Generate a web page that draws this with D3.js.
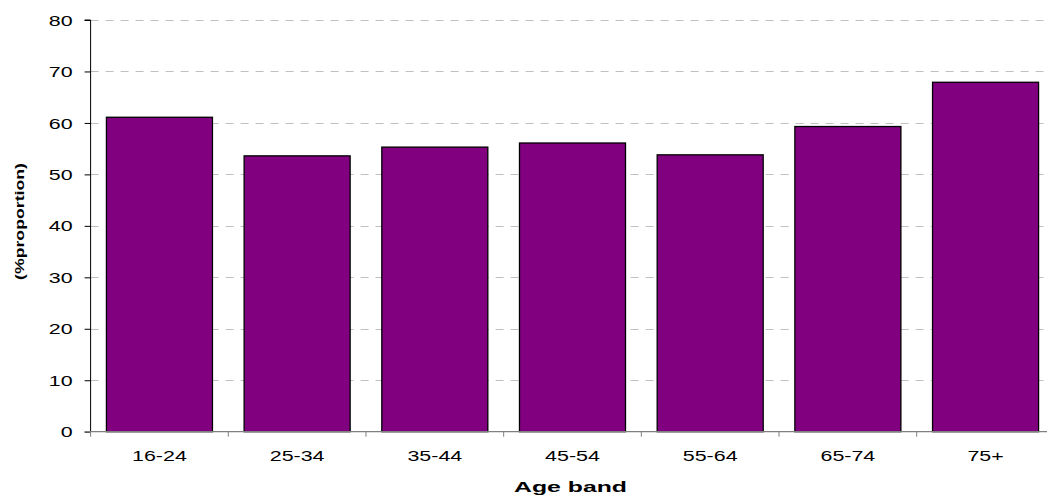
<!DOCTYPE html>
<html><head><meta charset="utf-8">
<script src="https://cdn.jsdelivr.net/npm/d3@7"></script>
<style>body{margin:0;background:#fff}svg{display:block;font-family:"Liberation Sans",Arial,sans-serif}</style>
</head><body><svg id="c" width="1047" height="496"></svg>
<script>
const categories = ["16-24","25-34","35-44","45-54","55-64","65-74","75+"];
const values = [61.1, 53.6, 55.3, 56.1, 53.8, 59.3, 67.9];
const yTicks = [0,10,20,30,40,50,60,70,80];
const xTitle = "Age band";
const yTitle = "(%proportion)";

(function(){
const svg = d3.select("#c");
const pl = 90.6, pr = 1054.4, pt = 20, pb = 431.7;
const stretch = 1.43;
const x = d3.scaleBand().domain(categories).range([pl, pr]).paddingInner(0.23).paddingOuter(0.115);
const y = d3.scaleLinear().domain([0, 80]).range([pb, pt]);

// gridlines
svg.append("g").selectAll("line").data(yTicks.filter(d => d > 0)).join("line")
  .attr("x1", pl).attr("x2", 1047).attr("y1", d => Math.round(y(d)) + 0.5).attr("y2", d => Math.round(y(d)) + 0.5)
  .attr("stroke", "#c0c0c0").attr("stroke-width", 1).attr("stroke-dasharray", "8,7");

// bars
svg.append("g").selectAll("rect").data(categories).join("rect")
  .attr("x", d => x(d)).attr("width", x.bandwidth())
  .attr("y", (d, i) => y(values[i])).attr("height", (d, i) => y(0) - y(values[i]))
  .attr("fill", "#800080").attr("stroke", "#000").attr("stroke-width", 1.3);

// y axis
const ya = svg.append("g").attr("transform", `translate(${pl},0)`)
  .call(d3.axisLeft(y).tickValues(yTicks).tickSize(6).tickPadding(18));
ya.select(".domain").attr("stroke", "#000").attr("d", `M-6,${pt}H0V${pb}`);
ya.selectAll("line").attr("stroke", "#000");
ya.selectAll("text").attr("font-size", 15).attr("fill", "#000").attr("font-family", "Liberation Sans, Arial, sans-serif")
  .attr("x", 0).attr("dy", "0.34em").attr("transform", `translate(-18,0) scale(${stretch},1)`);

// x axis
const xa = svg.append("g").attr("transform", `translate(0,${pb})`);
xa.append("line").attr("x1", pl - 6).attr("x2", 1047).attr("y1", 0).attr("y2", 0).attr("stroke", "#808080").attr("stroke-width", 1.2);
const bounds = categories.map((c, i) => pl + i * x.step());
xa.selectAll("line.t").data(bounds).join("line").attr("class", "t")
  .attr("x1", d => d).attr("x2", d => d).attr("y1", 0).attr("y2", 5).attr("stroke", "#808080");
xa.selectAll("text").data(categories).join("text")
  .attr("transform", d => `translate(${x(d) + x.bandwidth() / 2},29) scale(${stretch},1)`)
  .attr("text-anchor", "middle").attr("font-size", 15).attr("fill", "#000").text(d => d);

// titles
const xt = svg.append("text").attr("text-anchor", "middle")
  .attr("font-size", 15).attr("font-weight", "bold").text(xTitle);
const xw = xt.node().getComputedTextLength();
xt.attr("transform", `translate(570.5,491.5) scale(${113 / xw},1)`);
const yt = svg.append("text").attr("text-anchor", "middle").attr("font-size", 13).attr("font-weight", "bold").text(yTitle);
const yw = yt.node().getComputedTextLength();
yt.attr("transform", `translate(24,221.5) rotate(-90) scale(${117 / yw},1)`);
})();
</script></body></html>
